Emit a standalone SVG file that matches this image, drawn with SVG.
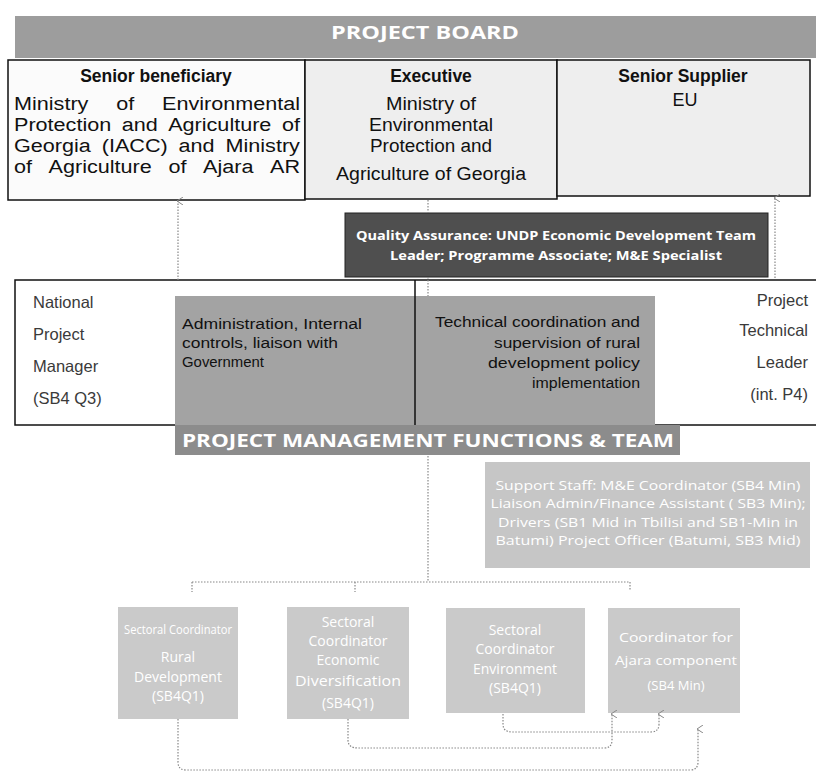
<svg xmlns="http://www.w3.org/2000/svg" width="816" height="776" viewBox="0 0 816 776">
<defs>
<style>
.hd{font-family:"Liberation Sans",Arial,sans-serif;font-weight:bold;font-size:17.5px;fill:#111;}
.bd{font-family:"Liberation Sans",Arial,sans-serif;font-size:18px;fill:#111;}
.pm{font-family:"Liberation Sans",Arial,sans-serif;font-size:16.5px;fill:#3a3a3a;}
.fn{font-family:"Liberation Sans",Arial,sans-serif;font-size:14px;fill:#111;}
.wb{font-family:"Open Sans","Liberation Sans",sans-serif;font-weight:bold;fill:#fff;}
.ws{font-family:"Open Sans","Liberation Sans",sans-serif;fill:#fff;}
.box{stroke:#111;stroke-width:1.5;}
.dot{fill:none;stroke:#888;stroke-width:1.2;stroke-dasharray:1.5 1.5;}
</style>
<marker id="ah" markerWidth="8" markerHeight="8" refX="4" refY="1" orient="auto-start-reverse" markerUnits="userSpaceOnUse">
<path d="M0,6 L4,0 L8,6" fill="none" stroke="#888" stroke-width="1"/>
</marker>
</defs>
<rect width="816" height="776" fill="#fff"/>

<g id="project-board">
<rect x="15" y="16" width="801" height="42" fill="#9d9d9d"/>
<text class="wb" x="425" y="39" font-size="17" text-anchor="middle" textLength="188" lengthAdjust="spacingAndGlyphs">PROJECT BOARD</text>
</g>

<g id="senior-beneficiary">
<rect class="box" x="8" y="60" width="297" height="140" fill="#fbfbfb"/>
<text class="hd" x="156" y="82" text-anchor="middle">Senior beneficiary</text>
<text class="bd" x="14" y="110" textLength="74.4" lengthAdjust="spacingAndGlyphs">Ministry</text>
<text class="bd" x="116.2" y="110" textLength="18" lengthAdjust="spacingAndGlyphs">of</text>
<text class="bd" x="162" y="110" textLength="138" lengthAdjust="spacingAndGlyphs">Environmental</text>
<text class="bd" x="14" y="131" textLength="97.2" lengthAdjust="spacingAndGlyphs">Protection</text>
<text class="bd" x="121.7" y="131" textLength="36" lengthAdjust="spacingAndGlyphs">and</text>
<text class="bd" x="168.2" y="131" textLength="103.2" lengthAdjust="spacingAndGlyphs">Agriculture</text>
<text class="bd" x="281.9" y="131" textLength="18" lengthAdjust="spacingAndGlyphs">of</text>
<text class="bd" x="14" y="152" textLength="76.8" lengthAdjust="spacingAndGlyphs">Georgia</text>
<text class="bd" x="101.7" y="152" textLength="66" lengthAdjust="spacingAndGlyphs">(IACC)</text>
<text class="bd" x="178.6" y="152" textLength="36" lengthAdjust="spacingAndGlyphs">and</text>
<text class="bd" x="225.5" y="152" textLength="74.4" lengthAdjust="spacingAndGlyphs">Ministry</text>
<text class="bd" x="14" y="173" textLength="18" lengthAdjust="spacingAndGlyphs">of</text>
<text class="bd" x="48.6" y="173" textLength="103.2" lengthAdjust="spacingAndGlyphs">Agriculture</text>
<text class="bd" x="168.4" y="173" textLength="18" lengthAdjust="spacingAndGlyphs">of</text>
<text class="bd" x="203" y="173" textLength="50.4" lengthAdjust="spacingAndGlyphs">Ajara</text>
<text class="bd" x="270" y="173" textLength="30" lengthAdjust="spacingAndGlyphs">AR</text>
</g>

<g id="executive">
<rect class="box" x="305" y="60" width="252" height="139" fill="#eeeeee"/>
<text class="hd" x="431" y="82" text-anchor="middle">Executive</text>
<text class="bd" x="431" y="110" text-anchor="middle" textLength="90" lengthAdjust="spacingAndGlyphs">Ministry of</text>
<text class="bd" x="431" y="131" text-anchor="middle" textLength="124" lengthAdjust="spacingAndGlyphs">Environmental</text>
<text class="bd" x="431" y="152" text-anchor="middle" textLength="122" lengthAdjust="spacingAndGlyphs">Protection and</text>
<text class="bd" x="431" y="180" text-anchor="middle" textLength="190" lengthAdjust="spacingAndGlyphs">Agriculture of Georgia</text>
</g>

<g id="senior-supplier">
<rect class="box" x="557" y="60" width="253" height="136" fill="#eeeeee"/>
<text class="hd" x="683" y="82" text-anchor="middle">Senior Supplier</text>
<text class="bd" x="685" y="106" text-anchor="middle">EU</text>
</g>

<g id="quality-assurance">
<rect x="345" y="213" width="423" height="64" fill="#4f4f4f" stroke="#222" stroke-width="1"/>
<text class="wb" x="556" y="240" font-size="12.5" text-anchor="middle" textLength="400" lengthAdjust="spacingAndGlyphs">Quality Assurance: UNDP Economic Development Team</text>
<text class="wb" x="556" y="260" font-size="12.5" text-anchor="middle" textLength="332" lengthAdjust="spacingAndGlyphs">Leader; Programme Associate; M&amp;E Specialist</text>
</g>

<g id="project-management">
<rect class="box" x="15" y="280" width="802" height="145" fill="#fff"/>
<rect x="175" y="296" width="480" height="129" fill="#a3a3a3"/>
<line x1="415" y1="280" x2="415" y2="425" stroke="#111" stroke-width="1.5"/>
<text class="pm" x="33" y="308">National</text>
<text class="pm" x="33" y="340">Project</text>
<text class="pm" x="33" y="372">Manager</text>
<text class="pm" x="33" y="404">(SB4 Q3)</text>
<text class="pm" x="808" y="306" text-anchor="end">Project</text>
<text class="pm" x="808" y="336" text-anchor="end">Technical</text>
<text class="pm" x="808" y="368" text-anchor="end">Leader</text>
<text class="pm" x="808" y="400" text-anchor="end">(int. P4)</text>
<text class="fn" x="182" y="329" textLength="180" lengthAdjust="spacingAndGlyphs">Administration, Internal</text>
<text class="fn" x="182" y="348" textLength="156" lengthAdjust="spacingAndGlyphs">controls, liaison with</text>
<text class="fn" x="182" y="367" textLength="82" lengthAdjust="spacingAndGlyphs">Government</text>
<text class="fn" x="640" y="327" text-anchor="end" textLength="205" lengthAdjust="spacingAndGlyphs">Technical coordination and</text>
<text class="fn" x="640" y="348" text-anchor="end" textLength="146" lengthAdjust="spacingAndGlyphs">supervision of rural</text>
<text class="fn" x="640" y="368" text-anchor="end" textLength="152" lengthAdjust="spacingAndGlyphs">development policy</text>
<text class="fn" x="640" y="388" text-anchor="end" textLength="108" lengthAdjust="spacingAndGlyphs">implementation</text>
</g>

<g id="pm-functions-team">
<rect x="175" y="425" width="505" height="30" fill="#8c8c8c"/>
<text class="wb" x="428" y="447" font-size="18" text-anchor="middle" textLength="492" lengthAdjust="spacingAndGlyphs">PROJECT MANAGEMENT FUNCTIONS &amp; TEAM</text>
</g>

<g id="support-staff">
<rect x="485" y="462" width="325" height="106" fill="#c6c6c6"/>
<text class="ws" x="648" y="490" font-size="12" text-anchor="middle" textLength="305" lengthAdjust="spacingAndGlyphs">Support Staff: M&amp;E Coordinator (SB4 Min)</text>
<text class="ws" x="648" y="508" font-size="12" text-anchor="middle" textLength="315" lengthAdjust="spacingAndGlyphs">Liaison Admin/Finance Assistant ( SB3 Min);</text>
<text class="ws" x="648" y="527" font-size="12" text-anchor="middle" textLength="300" lengthAdjust="spacingAndGlyphs">Drivers (SB1 Mid in Tbilisi and SB1-Min in</text>
<text class="ws" x="648" y="545" font-size="12" text-anchor="middle" textLength="305" lengthAdjust="spacingAndGlyphs">Batumi) Project Officer (Batumi, SB3 Mid)</text>
</g>

<g id="coord-rural">
<rect x="118" y="607" width="120" height="112" fill="#cacaca"/>
<text class="ws" x="178" y="634" font-size="13" text-anchor="middle" textLength="108" lengthAdjust="spacingAndGlyphs">Sectoral Coordinator</text>
<text class="ws" x="178" y="662" font-size="14" text-anchor="middle">Rural</text>
<text class="ws" x="178" y="682" font-size="14" text-anchor="middle">Development</text>
<text class="ws" x="178" y="701" font-size="14" text-anchor="middle">(SB4Q1)</text>
</g>

<g id="coord-economic">
<rect x="287" y="607" width="122" height="112" fill="#cacaca"/>
<text class="ws" x="348" y="627" font-size="14" text-anchor="middle">Sectoral</text>
<text class="ws" x="348" y="646" font-size="14" text-anchor="middle">Coordinator</text>
<text class="ws" x="348" y="665" font-size="14" text-anchor="middle">Economic</text>
<text class="ws" x="348" y="686" font-size="14" text-anchor="middle" textLength="106" lengthAdjust="spacingAndGlyphs">Diversification</text>
<text class="ws" x="348" y="708" font-size="14" text-anchor="middle">(SB4Q1)</text>
</g>

<g id="coord-environment">
<rect x="446" y="608" width="139" height="105" fill="#cacaca"/>
<text class="ws" x="515" y="635" font-size="14" text-anchor="middle">Sectoral</text>
<text class="ws" x="515" y="654" font-size="14" text-anchor="middle">Coordinator</text>
<text class="ws" x="515" y="674" font-size="14" text-anchor="middle">Environment</text>
<text class="ws" x="515" y="693" font-size="14" text-anchor="middle">(SB4Q1)</text>
</g>

<g id="coord-ajara">
<rect x="608" y="608" width="132" height="105" fill="#cacaca"/>
<text class="ws" x="676" y="642" font-size="13" text-anchor="middle" textLength="114" lengthAdjust="spacingAndGlyphs">Coordinator for</text>
<text class="ws" x="676" y="665" font-size="13" text-anchor="middle" textLength="122" lengthAdjust="spacingAndGlyphs">Ajara component</text>
<text class="ws" x="676" y="690" font-size="13" text-anchor="middle">(SB4 Min)</text>
</g>

<g id="connectors">
<path class="dot" d="M178,280 V201" marker-end="url(#ah)"/>
<path class="dot" d="M775,278 V198" marker-end="url(#ah)"/>
<path class="dot" d="M428,200 V213"/>
<path class="dot" d="M428,277 V296"/>
<path class="dot" d="M428,456 V582"/>
<path class="dot" d="M192,582 H630"/>
<path class="dot" d="M192,582 V592"/>
<path class="dot" d="M355,582 V592"/>
<path class="dot" d="M630,582 V590"/>
<path class="dot" d="M178,719 V762 Q178,770 186,770 H690 Q698,770 698,762 V729" marker-end="url(#ah)"/>
<path class="dot" d="M348,719 V740 Q348,748 358,748 H604 Q612,748 612,740 V714" marker-end="url(#ah)"/>
<path class="dot" d="M503,714 V724 Q503,732 512,732 H651 Q659,732 659,724 V714" marker-end="url(#ah)"/>
</g>
</svg>
